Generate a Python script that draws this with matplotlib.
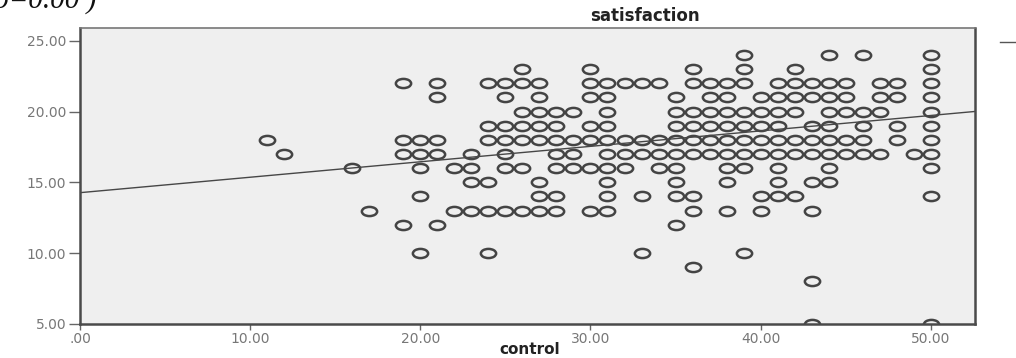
import numpy as np
import matplotlib
matplotlib.use("Agg")
import matplotlib.pyplot as plt
from matplotlib.path import Path
from matplotlib.transforms import Affine2D
from matplotlib.lines import Line2D

# satisfaction value of each row of points, with the control scores seen on that row
sat_levels = [24, 23, 22, 21, 20, 19, 18, 17, 16, 15, 14, 13, 12, 10, 9, 8, 5]
control_rows = [
    [39, 44, 46, 50],
    [26, 30, 36, 39, 42, 50],
    [19, 21, 24, 25, 26, 27, 30, 31, 32, 33, 34, 36, 37, 38, 39, 41, 42, 43, 44, 45, 47, 48, 50],
    [21, 25, 27, 30, 31, 35, 37, 38, 40, 41, 42, 43, 44, 45, 47, 48, 50],
    [26, 27, 28, 29, 31, 35, 36, 37, 38, 39, 40, 41, 42, 44, 45, 46, 47, 50],
    [24, 25, 26, 27, 28, 30, 31, 35, 36, 37, 38, 39, 40, 41, 43, 44, 46, 48, 50],
    [11, 19, 20, 21, 24, 25, 26, 27, 28, 29, 30, 31, 32, 33, 34, 35, 36, 37, 38, 39,
     40, 41, 42, 43, 44, 45, 46, 48, 50],
    [12, 19, 20, 21, 23, 25, 28, 29, 31, 32, 33, 34, 35, 36, 37, 38, 39, 40, 41, 42,
     43, 44, 45, 46, 47, 49, 50],
    [16, 20, 22, 23, 25, 26, 28, 29, 30, 31, 32, 34, 35, 38, 39, 41, 44, 50],
    [23, 24, 27, 31, 35, 38, 41, 43, 44],
    [20, 27, 28, 31, 33, 35, 36, 40, 41, 42, 50],
    [17, 22, 23, 24, 25, 26, 27, 28, 30, 31, 36, 38, 40, 43],
    [19, 21, 35],
    [20, 24, 33, 39],
    [36],
    [43],
    [43, 50],
]

# fit line
fit_intercept = 14.27
fit_slope = 0.109

x_ticks = [0, 10, 20, 30, 40, 50]
x_labels = [".00", "10.00", "20.00", "30.00", "40.00", "50.00"]
y_ticks = [5, 10, 15, 20, 25]
y_labels = ["5.00", "10.00", "15.00", "20.00", "25.00"]

control = []
satisfaction = []
for s, row in zip(sat_levels, control_rows):
    control += row
    satisfaction += [s] * len(row)

fig = plt.figure(figsize=(10.16, 3.58), dpi=100)
ax = fig.add_axes([0.0787, 0.095, 0.881, 0.827])
ax.set_facecolor("#efefef")

# flattened ring, like the stretched SPSS markers
ring = Affine2D().scale(1.0, 0.6).transform_path(Path.unit_circle())
ax.plot(control, satisfaction, linestyle="none", marker=ring, markersize=11,
        markerfacecolor="none", markeredgecolor="#444444", markeredgewidth=1.8)

xlim = (0, 52.6)
xs = np.array(xlim)
ax.plot(xs, fit_intercept + fit_slope * xs, color="#474747", linewidth=1.0)

ax.set_xlim(*xlim)
ax.set_ylim(5, 25.9)
ax.set_xticks(x_ticks)
ax.set_xticklabels(x_labels)
ax.set_yticks(y_ticks)
ax.set_yticklabels(y_labels)
ax.tick_params(axis="y", length=8, width=1, color="#666666", labelcolor="#777777",
               labelsize=10, pad=2)
ax.tick_params(axis="x", length=4, width=1, color="#666666", labelcolor="#777777",
               labelsize=10, pad=2)

for side in ["left", "bottom", "right"]:
    ax.spines[side].set_color("#4a4a4a")
    ax.spines[side].set_linewidth(1.8)
ax.spines["top"].set_color("#777777")
ax.spines["top"].set_linewidth(1.2)

fig.text(645 / 1016, 1 - 16 / 358, "satisfaction", ha="center", va="center",
         fontsize=12, fontweight="bold", color="#222222")
fig.text(530 / 1016, 1 - 349 / 358, "control", ha="center", va="center",
         fontsize=11, fontweight="bold", color="#222222")

# cropped bits of the surrounding page
fig.text(-6 / 1016, 1 - 8 / 358, "o=0.00 )", ha="left", va="baseline",
         fontsize=21, family="Liberation Serif", style="italic", color="#111111")
fig.add_artist(Line2D([1000 / 1016, 1.0], [1 - 42 / 358, 1 - 42 / 358],
                      transform=fig.transFigure, color="#555555", linewidth=1))

fig.savefig("out.png", dpi=100)
